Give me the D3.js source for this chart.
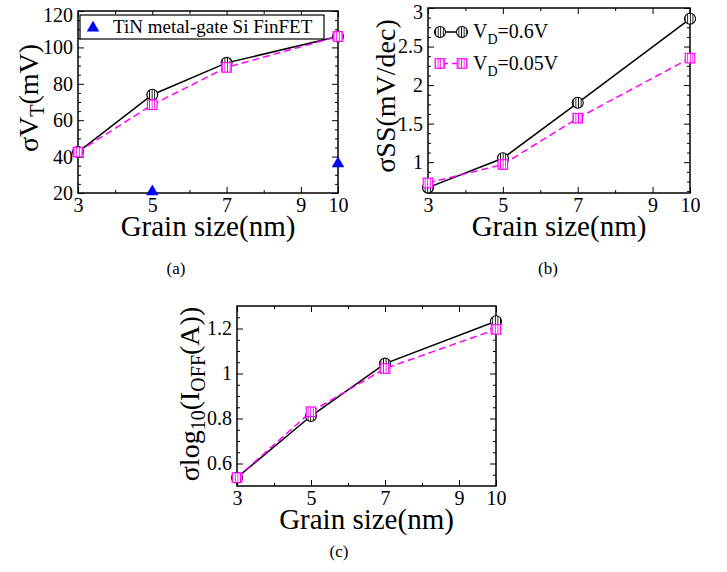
<!DOCTYPE html>
<html>
<head>
<meta charset="utf-8">
<script src="https://cdn.jsdelivr.net/npm/d3@7"></script>
<style>
  body { margin: 0; background: #fff; }
  svg { display: block; font-family: "Liberation Serif", "Times New Roman", serif; }
</style>
</head>
<body>
<div id="chart"></div>
<script>
// grain sizes (nm) on the x axis of every panel
var grainSizes = [3, 5, 7, 10];
var xTicksMajor = [3, 5, 7, 9, 10];
var xTicksMinor = [4, 6, 8];

// (a) sigma VT in mV
var vtHighVd = [42.5, 74, 91.5, 106];
var vtLowVd = [42.5, 68.5, 89, 106];
var tinGrain = [5, 10];
var tinVt = [20.7, 36.1];

// (b) sigma SS in mV/dec
var ssHighVd = [0.67, 1.05, 1.77, 2.86];
var ssLowVd = [0.73, 0.97, 1.57, 2.35];

// (c) sigma log10(IOFF)
var ioffHighVd = [0.537, 0.811, 1.044, 1.232];
var ioffLowVd = [0.537, 0.83, 1.022, 1.196];

var seriesNames = ["V_D=0.6V", "V_D=0.05V"];
var tinName = "TiN metal-gate Si FinFET";

var black = "#000", magenta = "#ff00ff", blue = "#0000ff";

var svg = d3.select("#chart").append("svg").attr("width", 727).attr("height", 572);

var defs = svg.append("defs");
function hatch(id, color) {
    var p = defs.append("pattern").attr("id", id)
        .attr("patternUnits", "userSpaceOnUse").attr("width", 2.6).attr("height", 4);
    p.append("rect").attr("width", 2.6).attr("height", 4).attr("fill", "#fff");
    p.append("line").attr("x1", 1.3).attr("x2", 1.3).attr("y1", 0).attr("y2", 4)
        .attr("stroke", color).attr("stroke-width", 0.9);
}
hatch("hatchBlack", black);
hatch("hatchMagenta", magenta);

function circleMark(g, x, y) {
    g.append("circle").attr("cx", x).attr("cy", y).attr("r", 5.5)
        .attr("fill", "url(#hatchBlack)").attr("stroke", black).attr("stroke-width", 1.1);
}
function squareMark(g, x, y) {
    g.append("rect").attr("x", x - 4.8).attr("y", y - 4.8).attr("width", 9.6).attr("height", 9.6)
        .attr("fill", "url(#hatchMagenta)").attr("stroke", magenta).attr("stroke-width", 1.1);
}

function drawPanel(p) {
    var g = svg.append("g");
    var x = d3.scaleLinear().domain([3, 10]).range([p.left, p.right]);
    var y = d3.scaleLinear().domain(p.yDomain).range([p.bottom, p.top]);

    function styleAxis(a) {
        a.attr("font-family", null);
        a.select(".domain").remove();
        a.selectAll("line").attr("stroke", black).attr("stroke-width", 1);
        a.selectAll("text").attr("font-size", 20).attr("fill", black);
    }
    // bottom & top
    g.append("g").attr("transform", "translate(0," + p.bottom + ")")
        .call(d3.axisBottom(x).tickValues(xTicksMajor).tickSizeInner(-6).tickSizeOuter(0).tickPadding(5).tickFormat(d3.format("d")))
        .call(styleAxis);
    g.append("g").attr("transform", "translate(0," + p.bottom + ")")
        .call(d3.axisBottom(x).tickValues(xTicksMinor).tickSizeInner(-3).tickSizeOuter(0).tickFormat(""))
        .call(styleAxis);
    g.append("g").attr("transform", "translate(0," + p.top + ")")
        .call(d3.axisTop(x).tickValues(xTicksMajor).tickSizeInner(-6).tickSizeOuter(0).tickFormat(""))
        .call(styleAxis);
    g.append("g").attr("transform", "translate(0," + p.top + ")")
        .call(d3.axisTop(x).tickValues(xTicksMinor).tickSizeInner(-3).tickSizeOuter(0).tickFormat(""))
        .call(styleAxis);
    // left & right
    g.append("g").attr("transform", "translate(" + p.left + ",0)")
        .call(d3.axisLeft(y).tickValues(p.yMajor).tickSizeInner(-6).tickSizeOuter(0).tickPadding(5).tickFormat(d3.format("~g")))
        .call(styleAxis)
        .selectAll(".tick text").attr("dy", function(d) { return y(d) < 12 ? "0.5em" : "0.32em"; });
    g.append("g").attr("transform", "translate(" + p.left + ",0)")
        .call(d3.axisLeft(y).tickValues(p.yMinor).tickSizeInner(-3).tickSizeOuter(0).tickFormat(""))
        .call(styleAxis);
    g.append("g").attr("transform", "translate(" + p.right + ",0)")
        .call(d3.axisRight(y).tickValues(p.yMajor).tickSizeInner(-6).tickSizeOuter(0).tickFormat(""))
        .call(styleAxis);
    g.append("g").attr("transform", "translate(" + p.right + ",0)")
        .call(d3.axisRight(y).tickValues(p.yMinor).tickSizeInner(-3).tickSizeOuter(0).tickFormat(""))
        .call(styleAxis);

    g.append("rect").attr("x", p.left).attr("y", p.top)
        .attr("width", p.right - p.left).attr("height", p.bottom - p.top)
        .attr("fill", "none").attr("stroke", black).attr("stroke-width", 1.5);

    var line = d3.line().x(function(d) { return x(d[0]); }).y(function(d) { return y(d[1]); });
    var hi = d3.zip(grainSizes, p.high), lo = d3.zip(grainSizes, p.low);

    g.append("path").attr("d", line(hi)).attr("fill", "none").attr("stroke", black).attr("stroke-width", 1.5);
    g.append("path").attr("d", line(lo)).attr("fill", "none").attr("stroke", magenta)
        .attr("stroke-width", 1.5).attr("stroke-dasharray", "7,4");
    hi.forEach(function(d) { circleMark(g, x(d[0]), y(d[1])); });
    lo.forEach(function(d) { squareMark(g, x(d[0]), y(d[1])); });

    // x label
    g.append("text").attr("x", (p.left + p.right) / 2).attr("y", p.bottom + 43)
        .attr("text-anchor", "middle").attr("font-size", 29).text("Grain size(nm)");
    // y label
    var yl = g.append("text").attr("text-anchor", "middle").attr("font-size", 28)
        .attr("transform", "translate(" + p.yLabelX + "," + p.yLabelY + ") rotate(-90)");
    p.yLabel.forEach(function(part) {
        var t = yl.append("tspan").text(part.t);
        if (part.sub) t.attr("font-size", 20).attr("dy", 6);
        if (part.up) t.attr("dy", -6);
    });
    // caption
    g.append("text").attr("x", p.capX).attr("y", p.capY).attr("text-anchor", "middle")
        .attr("font-size", 17).text(p.caption);
    return { g: g, x: x, y: y };
}

var pa = drawPanel({
    left: 78, right: 338, top: 11, bottom: 193,
    yDomain: [20, 120], yMajor: d3.range(20, 121, 20), yMinor: d3.range(25, 120, 5).filter(function(v) { return v % 20; }),
    high: vtHighVd, low: vtLowVd,
    yLabel: [{ t: "σV" }, { t: "T", sub: true }, { t: "(mV)", up: true }],
    yLabelX: 38, yLabelY: 98, caption: "(a)", capX: 176, capY: 274
});
var pb = drawPanel({
    left: 428, right: 690, top: 8, bottom: 193,
    yDomain: [0.6, 3], yMajor: [1, 1.5, 2, 2.5, 3], yMinor: d3.range(0.625, 3, 0.125).filter(function(v) { return Math.abs(v * 2 - Math.round(v * 2)) > 0.01; }),
    high: ssHighVd, low: ssLowVd,
    yLabel: [{ t: "σSS(mV/dec)" }],
    yLabelX: 395, yLabelY: 96, caption: "(b)", capX: 548, capY: 274
});
var pc = drawPanel({
    left: 237, right: 496, top: 306, bottom: 486,
    yDomain: [0.5, 1.3], yMajor: [0.6, 0.8, 1, 1.2], yMinor: d3.range(0.55, 1.3, 0.05).filter(function(v) { return Math.abs(v * 5 - Math.round(v * 5)) > 0.01; }),
    high: ioffHighVd, low: ioffLowVd,
    yLabel: [{ t: "σlog" }, { t: "10", sub: true }, { t: "(I", up: true }, { t: "OFF", sub: true }, { t: "(A))", up: true }],
    yLabelX: 199, yLabelY: 394, caption: "(c)", capX: 339, capY: 557
});

// (a) TiN triangles and legend
var tri = d3.symbol().type(d3.symbolTriangle).size(68);
d3.zip(tinGrain, tinVt).forEach(function(d) {
    pa.g.append("path").attr("d", tri())
        .attr("transform", "translate(" + pa.x(d[0]) + "," + pa.y(d[1]) + ")").attr("fill", blue);
});
pa.g.append("rect").attr("x", 80).attr("y", 15).attr("width", 244).attr("height", 24)
    .attr("fill", "#fff").attr("stroke", black).attr("stroke-width", 1.2);
pa.g.append("path").attr("d", tri()).attr("transform", "translate(93,28)").attr("fill", blue);
pa.g.append("text").attr("x", 113).attr("y", 33).attr("font-size", 19).text(tinName);

// (b) legend
var leg = pb.g.append("g");
[0, 1].forEach(function(i) {
    var yy = i === 0 ? 32 : 63.5;
    var l = leg.append("line").attr("x1", 440).attr("x2", 462).attr("y1", yy).attr("y2", yy)
        .attr("stroke", i === 0 ? black : magenta).attr("stroke-width", 1.5);
    if (i === 1) l.attr("stroke-dasharray", "6,4").attr("stroke-dashoffset", -2);
    if (i === 0) { circleMark(leg, 440, yy); circleMark(leg, 462, yy); }
    else { squareMark(leg, 440, yy); squareMark(leg, 462, yy); }
    var parts = seriesNames[i].split("_");
    var t = leg.append("text").attr("x", 473).attr("y", yy + 6).attr("font-size", 20);
    t.append("tspan").text(parts[0]);
    t.append("tspan").text(parts[1].charAt(0)).attr("font-size", 14).attr("dy", 6);
    t.append("tspan").text(parts[1].slice(1)).attr("dy", -6);
});
</script>
</body>
</html>
